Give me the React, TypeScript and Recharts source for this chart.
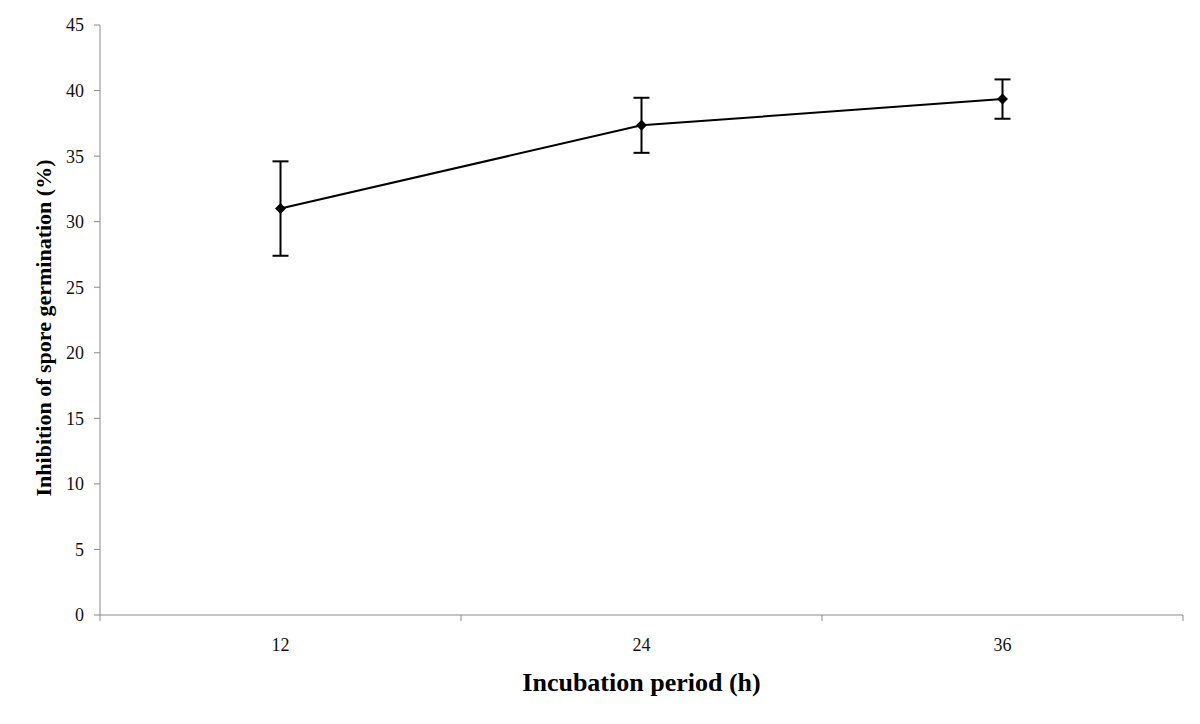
import { LineChart, Line, XAxis, YAxis, ErrorBar } from "recharts";

const hours = ["12", "24", "36"];
const inhibition = [31.0, 37.35, 39.35];
const stdError = [3.6, 2.1, 1.5];
const yTicks = [0, 5, 10, 15, 20, 25, 30, 35, 40, 45];

const data = hours.map((h, i) => ({
  hour: h,
  value: inhibition[i],
  err: stdError[i],
}));

const FONT = "'Liberation Serif', 'Times New Roman', serif";
const AXIS = "#8a8a8a";

function Diamond(props: any) {
  const { cx, cy } = props;
  if (cx == null || cy == null) return null;
  const r = 5.5;
  return (
    <polygon
      points={`${cx},${cy - r} ${cx + r},${cy} ${cx},${cy + r} ${cx - r},${cy}`}
      fill="#000"
    />
  );
}

// category label in the middle, tick marks on the category edges
function HourTick(props: any) {
  const { x, y, payload, index } = props;
  const half = payload.offset ?? 180;
  return (
    <g>
      <line x1={x - half} y1={y} x2={x - half} y2={y + 6} stroke={AXIS} />
      {index === hours.length - 1 && (
        <line x1={x + half} y1={y} x2={x + half} y2={y + 6} stroke={AXIS} />
      )}
      <text
        x={x}
        y={y + 36}
        textAnchor="middle"
        style={{ fontFamily: FONT, fontSize: 18, fill: "#111" }}
      >
        {payload.value}
      </text>
    </g>
  );
}

function YTitle(props: any) {
  const { viewBox } = props;
  const cx = 43;
  const cy = viewBox.y + viewBox.height / 2 + 8;
  return (
    <text
      x={cx}
      y={cy}
      transform={`rotate(-90, ${cx}, ${cy})`}
      textAnchor="middle"
      dominantBaseline="central"
      style={{ fontFamily: FONT, fontSize: 22, fontWeight: "bold", fill: "#000" }}
    >
      Inhibition of spore germination (%)
    </text>
  );
}

export default function App() {
  return (
    <div style={{ position: "absolute", left: 0, top: 0, background: "#fff" }}>
      <LineChart
        width={1200}
        height={724}
        data={data}
        margin={{ top: 25, right: 17, left: 0, bottom: 0 }}
      >
        <XAxis
          dataKey="hour"
          scale="band"
          height={109}
          stroke={AXIS}
          tickLine={false}
          tickSize={0}
          tickMargin={0}
          tick={<HourTick />}
          label={{
            value: "Incubation period (h)",
            position: "insideTop",
            offset: 58,
            style: {
              fontFamily: FONT,
              fontSize: 26,
              fontWeight: "bold",
              fill: "#000",
            },
          }}
        />
        <YAxis
          width={100}
          domain={[0, 45]}
          ticks={yTicks}
          interval={0}
          stroke={AXIS}
          tickSize={6}
          tickMargin={10}
          tick={{ fontFamily: FONT, fontSize: 18, fill: "#111" }}
          label={{ content: <YTitle /> }}
        />
        <Line
          dataKey="value"
          stroke="#000"
          strokeWidth={2}
          dot={<Diamond />}
          activeDot={false}
          isAnimationActive={false}
        >
          <ErrorBar
            dataKey="err"
            direction="y"
            width={8}
            stroke="#000"
            strokeWidth={2}
          />
        </Line>
      </LineChart>
    </div>
  );
}
